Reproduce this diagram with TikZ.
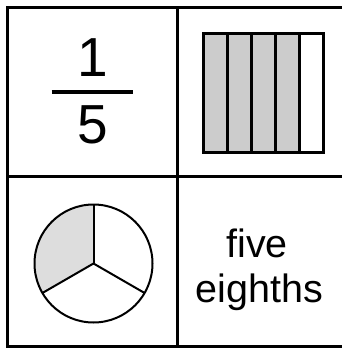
\documentclass[tikz,border=0pt]{standalone}
\usepackage{fontspec}
\setmainfont{Liberation Sans}
\definecolor{stripgray}{HTML}{CCCCCC}
\definecolor{sectorgray}{HTML}{DDDDDD}
\begin{document}
\begin{tikzpicture}[x=1pt,y=-1pt,
  gridline/.style={line width=3pt},
  digit/.style={inner sep=0pt,anchor=base,font=\fontsize{55}{60}\selectfont},
  word/.style={inner sep=0pt,anchor=base,font=\fontsize{39.5}{44}\selectfont},
  strip/.style={draw=black,line width=3pt},
  pieline/.style={line width=2pt}]
\useasboundingbox (0,0) rectangle (341,348);
% grid
\draw[gridline] (342,7.5) -- (7.5,7.5) -- (7.5,346) -- (342,346);
\draw[gridline] (177.5,7.5) -- (177.5,346);
\draw[gridline] (7.5,176.5) -- (342,176.5);
% fraction 1/5
\node[digit] (num) at (92.5,76.7) {1};
\node[digit] (den) at (92.5,143) {5};
\coordinate (barL) at (51.7,92);
\coordinate (barR) at (132.7,92);
\draw[line width=4pt] (barL) -- (barR);
% strip rectangle
\fill[stripgray] (203,33) rectangle (299,152);
\foreach \x in {227,251,275,299} \draw[line width=3pt] (\x,33) -- (\x,152);
\draw[strip] (203,33) rectangle (323,152);
% pie
\coordinate (pc) at (93.5,263.5);
\fill[sectorgray] (pc) -- ++(150:59) arc[start angle=150,end angle=270,radius=59] -- cycle;
\draw[pieline] (pc) circle[radius=59];
\draw[pieline] (pc) -- ++(270:59);
\draw[pieline] (pc) -- ++(150:59);
\draw[pieline] (pc) -- ++(30:59);
% words
\node[word] (w1) at (257,257.7) {five};
\node[word] (w2) at (259.5,302.3) {eighths};
\end{tikzpicture}
\end{document}
